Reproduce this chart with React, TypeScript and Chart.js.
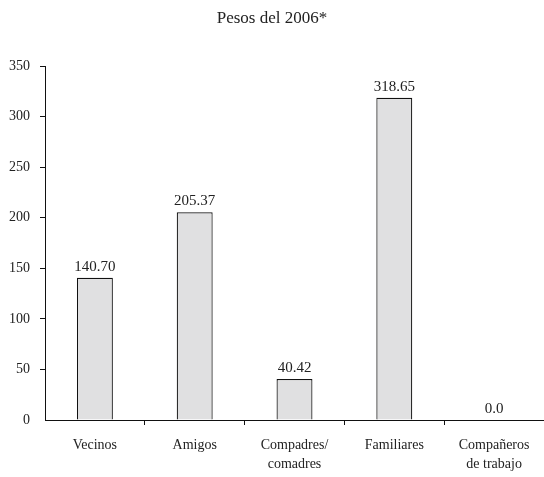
import React, { useEffect, useRef } from "react";
import { Chart, registerables } from "chart.js";

Chart.register(...registerables);

const categories: (string | string[])[] = [
  "Vecinos",
  "Amigos",
  ["Compadres/", "comadres"],
  "Familiares",
  ["Compañeros", "de trabajo"],
];
const values = [140.7, 205.37, 40.42, 318.65, 0.0];
const valueLabels = ["140.70", "205.37", "40.42", "318.65", "0.0"];
const yTicks = [0, 50, 100, 150, 200, 250, 300, 350];
const title = "Pesos del 2006*";

const FONT = "'Liberation Serif', 'DejaVu Serif', serif";
const TEXT = "#222222";
const LINE = "#111111";

const valueLabelPlugin = {
  id: "valueLabels",
  afterDatasetsDraw(chart: any) {
    const ctx = chart.ctx;
    const meta = chart.getDatasetMeta(0);
    ctx.save();
    ctx.font = `15px ${FONT}`;
    ctx.fillStyle = TEXT;
    ctx.textAlign = "center";
    ctx.textBaseline = "alphabetic";
    meta.data.forEach((bar: any, i: number) => {
      ctx.fillText(valueLabels[i], bar.x, bar.y - 7);
    });
    ctx.restore();
  },
};

export default function App() {
  const ref = useRef<HTMLCanvasElement>(null);
  useEffect(() => {
    document.body.style.margin = "0";
    const chart = new Chart(ref.current!, {
      type: "bar",
      data: {
        labels: categories,
        datasets: [
          {
            data: values,
            backgroundColor: "#e0e0e1",
            borderColor: LINE,
            borderWidth: 1.2,
            barPercentage: 0.36,
            categoryPercentage: 1,
          },
        ],
      },
      options: {
        animation: false,
        responsive: false,
        maintainAspectRatio: false,
        layout: { padding: 0 },
        plugins: {
          legend: { display: false },
          tooltip: { enabled: false },
          title: {
            display: true,
            text: title,
            color: TEXT,
            font: { family: FONT, size: 17, weight: "normal", lineHeight: 1.2 },
            padding: { top: 8, bottom: 37.6 },
          },
        },
        scales: {
          x: {
            offset: true,
            border: { display: true, color: LINE, width: 1 },
            grid: {
              offset: true,
              drawOnChartArea: false,
              drawTicks: true,
              tickLength: 5,
              color: (c: any) => (c.index === 0 ? "rgba(0,0,0,0)" : LINE),
            },
            ticks: {
              color: TEXT,
              padding: 11,
              maxRotation: 0,
              autoSkip: false,
              font: { family: FONT, size: 14, lineHeight: 1.35 },
            },
            afterFit: (s: any) => {
              s.height = 57;
            },
          },
          y: {
            min: 0,
            max: 350,
            border: { display: true, color: LINE, width: 1 },
            grid: {
              drawOnChartArea: false,
              drawTicks: true,
              tickLength: 5,
              color: (c: any) => (c.index === 0 ? "rgba(0,0,0,0)" : LINE),
            },
            afterBuildTicks: (s: any) => {
              s.ticks = yTicks.map((v) => ({ value: v }));
            },
            ticks: {
              color: TEXT,
              padding: 10,
              font: { family: FONT, size: 14 },
            },
            afterFit: (s: any) => {
              s.width = 45;
            },
          },
        },
      },
      plugins: [valueLabelPlugin],
    });
    return () => chart.destroy();
  }, []);
  return (
    <div style={{ position: "relative", width: 544, height: 477 }}>
      <canvas ref={ref} width={544} height={477} style={{ display: "block" }} />
    </div>
  );
}
